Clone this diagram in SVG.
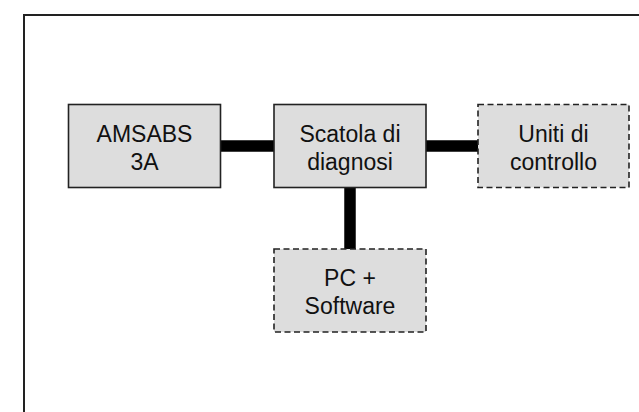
<svg xmlns="http://www.w3.org/2000/svg" width="639" height="412" viewBox="0 0 639 412">
<style>
.box{fill:#dddddd;stroke:#222;stroke-width:1.6}
.dash{stroke-dasharray:6,3.5}
.lbl{font-family:"Liberation Sans",Arial,sans-serif;font-size:23px;fill:#111;text-anchor:middle}
.conn{stroke:#000;stroke-width:11.5;fill:none}
</style>
<rect width="639" height="412" fill="#fff"/>
<path d="M24 420 V15 H650" fill="none" stroke="#222" stroke-width="2"/>
<g id="connectors">
<line class="conn" x1="221" y1="146" x2="274" y2="146"/>
<line class="conn" x1="426" y1="146" x2="478" y2="146"/>
<line class="conn" x1="350" y1="188" x2="350" y2="249"/>
</g>
<g id="amsabs">
<rect class="box" x="68.5" y="104.5" width="152" height="83"/>
<text class="lbl" x="144.5" y="141.5">AMSABS</text>
<text class="lbl" x="144.5" y="169.5">3A</text>
</g>
<g id="scatola">
<rect class="box" x="274" y="104.5" width="152" height="83"/>
<text class="lbl" x="350" y="141.5">Scatola di</text>
<text class="lbl" x="350" y="169.5">diagnosi</text>
</g>
<g id="uniti">
<rect class="box dash" x="478" y="104.5" width="151" height="83"/>
<text class="lbl" x="553.5" y="141.5">Uniti di</text>
<text class="lbl" x="553.5" y="169.5">controllo</text>
</g>
<g id="pc">
<rect class="box dash" x="274" y="249" width="152" height="83"/>
<text class="lbl" x="350" y="286">PC +</text>
<text class="lbl" x="350" y="314">Software</text>
</g>
</svg>
